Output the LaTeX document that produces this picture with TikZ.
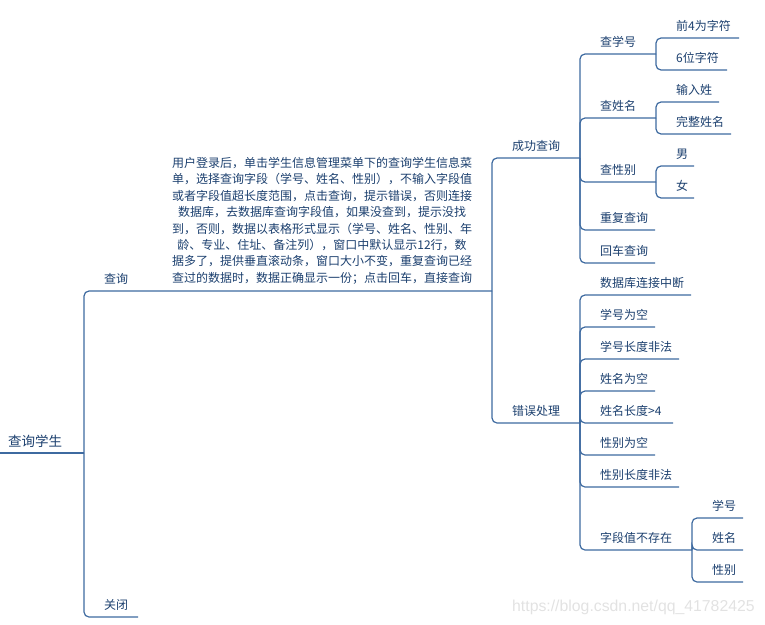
\documentclass[tikz,border=0pt]{standalone}
\usepackage{fontspec}
\setmainfont{Noto Sans CJK SC}
\newfontfamily\wmfont{Liberation Sans}
\definecolor{lncol}{HTML}{3E6AA0}
\definecolor{txcol}{HTML}{1B3F6E}
\definecolor{wmcol}{HTML}{E2E2E2}
\tikzset{
  ln/.style={draw=lncol, line width=1.2pt, rounded corners=5pt},
  lbl/.style={anchor=base west, inner sep=0pt, text=txcol, font=\fontsize{12}{14}\selectfont},
}
% #1 trunk x, #2 parent y, #3 child y, #4 end x, #5 name, #6 text
\newcommand\mybr[6]{%
  \coordinate (#5-s) at (#1,#2);
  \coordinate (#5-e) at (#4,#3);
  \node[lbl] (#5) at (#1+20,#3-7.5) {#6};
  \draw[ln] (#5-s) |- (#5-e);
}
\begin{document}
\begin{tikzpicture}[x=1pt,y=-1pt]
\useasboundingbox (0,0) rectangle (765,624);
% root
\coordinate (root-s) at (0,453);
\coordinate (root-e) at (84,453);
\node[lbl, font=\fontsize{13.5}{15}\selectfont] (root) at (8,446) {查询学生};
\draw[ln] (root-s) -- (root-e);
% level 1
\mybr{84}{453}{291}{492}{cx}{查询}
\mybr{84}{453}{617}{138}{gb}{关闭}
\node[text=txcol, inner sep=0pt, anchor=north, align=center,
      font=\fontsize{12}{16.4}\selectfont] (para) at (322,157) {%
用户登录后，单击学生信息管理菜单下的查询学生信息菜\\
单，选择查询字段（学号、姓名、性别），不输入字段值\\
或者字段值超长度范围，点击查询，提示错误，否则连接\\
数据库，去数据库查询字段值，如果没查到，提示没找\\
到，否则，数据以表格形式显示（学号、姓名、性别、年\\
龄、专业、住址、备注列），窗口中默认显示12行，数\\
据多了，提供垂直滚动条，窗口大小不变，重复查询已经\\
查过的数据时，数据正确显示一份；点击回车，直接查询};
% level 2
\mybr{492}{291}{158}{580}{cg}{成功查询}
\mybr{492}{291}{423}{580}{cw}{错误处理}
% success children
\mybr{580}{158}{54}{656}{xh}{查学号}
\mybr{656}{54}{38}{739}{xh1}{前4为字符}
\mybr{656}{54}{70}{727}{xh2}{6位字符}
\mybr{580}{158}{118}{656}{xm}{查姓名}
\mybr{656}{118}{102}{719}{xm1}{输入姓}
\mybr{656}{118}{134}{731}{xm2}{完整姓名}
\mybr{580}{158}{182}{656}{xb}{查性别}
\mybr{656}{182}{166}{694}{xb1}{男}
\mybr{656}{182}{198}{694}{xb2}{女}
\mybr{580}{158}{230}{655}{cf}{重复查询}
\mybr{580}{158}{263}{655}{hc}{回车查询}
% error children
\mybr{580}{423}{295}{691}{e1}{数据库连接中断}
\mybr{580}{423}{327}{655}{e2}{学号为空}
\mybr{580}{423}{359}{679}{e3}{学号长度非法}
\mybr{580}{423}{391}{655}{e4}{姓名为空}
\mybr{580}{423}{423}{673}{e5}{姓名长度>4}
\mybr{580}{423}{455}{655}{e6}{性别为空}
\mybr{580}{423}{487}{679}{e7}{性别长度非法}
\mybr{580}{423}{550}{692}{e8}{字段值不存在}
\mybr{692}{550}{518}{743}{e81}{学号}
\mybr{692}{550}{550}{743}{e82}{姓名}
\mybr{692}{550}{582}{743}{e83}{性别}
% watermark
\node[anchor=base west, inner sep=0pt, text=wmcol, font=\wmfont\fontsize{15.8}{18}\selectfont] (wm) at (512,611) {https://blog.csdn.net/qq\_41782425};
\end{tikzpicture}
\end{document}
